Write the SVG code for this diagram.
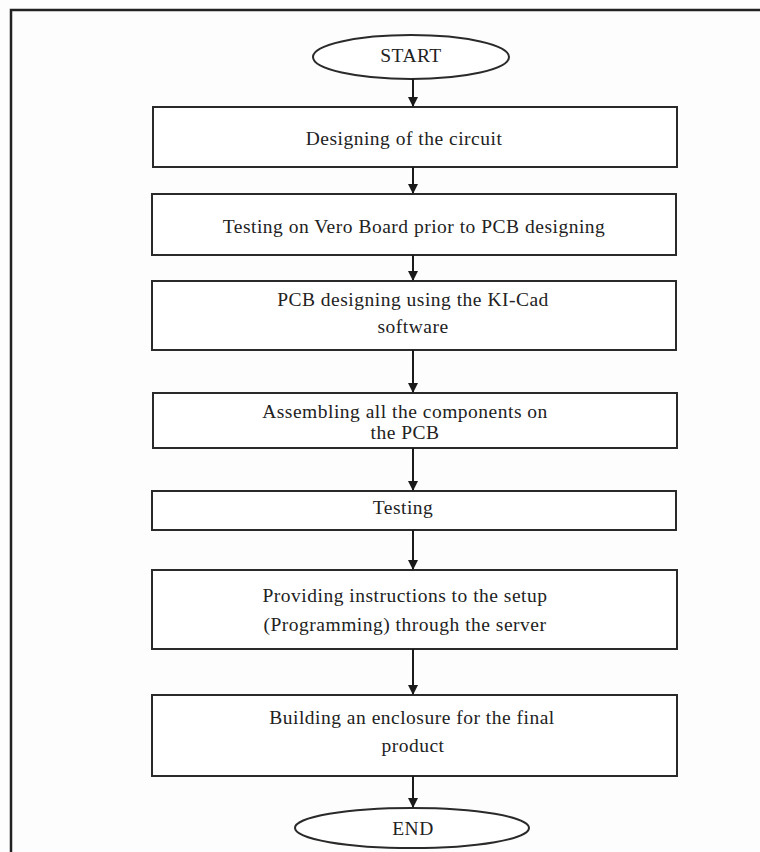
<svg xmlns="http://www.w3.org/2000/svg" width="760" height="852" viewBox="0 0 760 852">
<defs>
<style>
.box{fill:#fff;stroke:#2a2a2a;stroke-width:2}
.t{font-family:"Liberation Serif","Times New Roman",serif;font-size:19.5px;letter-spacing:0.5px;fill:#222;text-anchor:middle}
.c{stroke:#1a1a1a;stroke-width:2;fill:none}
</style>
<marker id="ah" markerWidth="10" markerHeight="10" refX="9" refY="5" orient="auto" markerUnits="userSpaceOnUse">
<path d="M0,0 L10,5 L0,10 Z" fill="#1a1a1a"/>
</marker>
</defs>
<rect x="0" y="0" width="760" height="852" fill="#fdfdfd"/>
<rect x="11" y="10" width="760" height="860" fill="none" stroke="#222" stroke-width="2.5"/>
<g id="start"><ellipse class="box" cx="411" cy="57" rx="98" ry="22"/><text class="t" x="411" y="62">START</text></g>
<g id="n1"><rect class="box" x="153" y="107" width="524" height="60"/><text class="t" x="404" y="145">Designing of the circuit</text></g>
<g id="n2"><rect class="box" x="152" y="194" width="524" height="61"/><text class="t" x="414" y="233">Testing on Vero Board prior to PCB designing</text></g>
<g id="n3"><rect class="box" x="152" y="281" width="524" height="69"/><text class="t" x="413" y="306">PCB designing using the KI-Cad</text><text class="t" x="413" y="333">software</text></g>
<g id="n4"><rect class="box" x="153" y="393" width="524" height="55"/><text class="t" x="405" y="418">Assembling all the components on</text><text class="t" x="405" y="439">the PCB</text></g>
<g id="n5"><rect class="box" x="152" y="491" width="524" height="39"/><text class="t" x="403" y="514">Testing</text></g>
<g id="n6"><rect class="box" x="152" y="570" width="525" height="79"/><text class="t" x="405" y="602">Providing instructions to the setup</text><text class="t" x="405" y="631">(Programming) through the server</text></g>
<g id="n7"><rect class="box" x="152" y="695" width="525" height="81"/><text class="t" x="412" y="724">Building an enclosure for the final</text><text class="t" x="413" y="752">product</text></g>
<g id="end"><ellipse class="box" cx="412" cy="828" rx="117" ry="20"/><text class="t" x="413" y="835">END</text></g>
<g id="connectors">
<line class="c" x1="413" y1="79" x2="413" y2="106" marker-end="url(#ah)"/>
<line class="c" x1="413" y1="167" x2="413" y2="193" marker-end="url(#ah)"/>
<line class="c" x1="413" y1="255" x2="413" y2="280" marker-end="url(#ah)"/>
<line class="c" x1="413" y1="350" x2="413" y2="392" marker-end="url(#ah)"/>
<line class="c" x1="413" y1="448" x2="413" y2="490" marker-end="url(#ah)"/>
<line class="c" x1="413" y1="530" x2="413" y2="569" marker-end="url(#ah)"/>
<line class="c" x1="413" y1="649" x2="413" y2="694" marker-end="url(#ah)"/>
<line class="c" x1="413" y1="776" x2="413" y2="807" marker-end="url(#ah)"/>
</g>
</svg>
